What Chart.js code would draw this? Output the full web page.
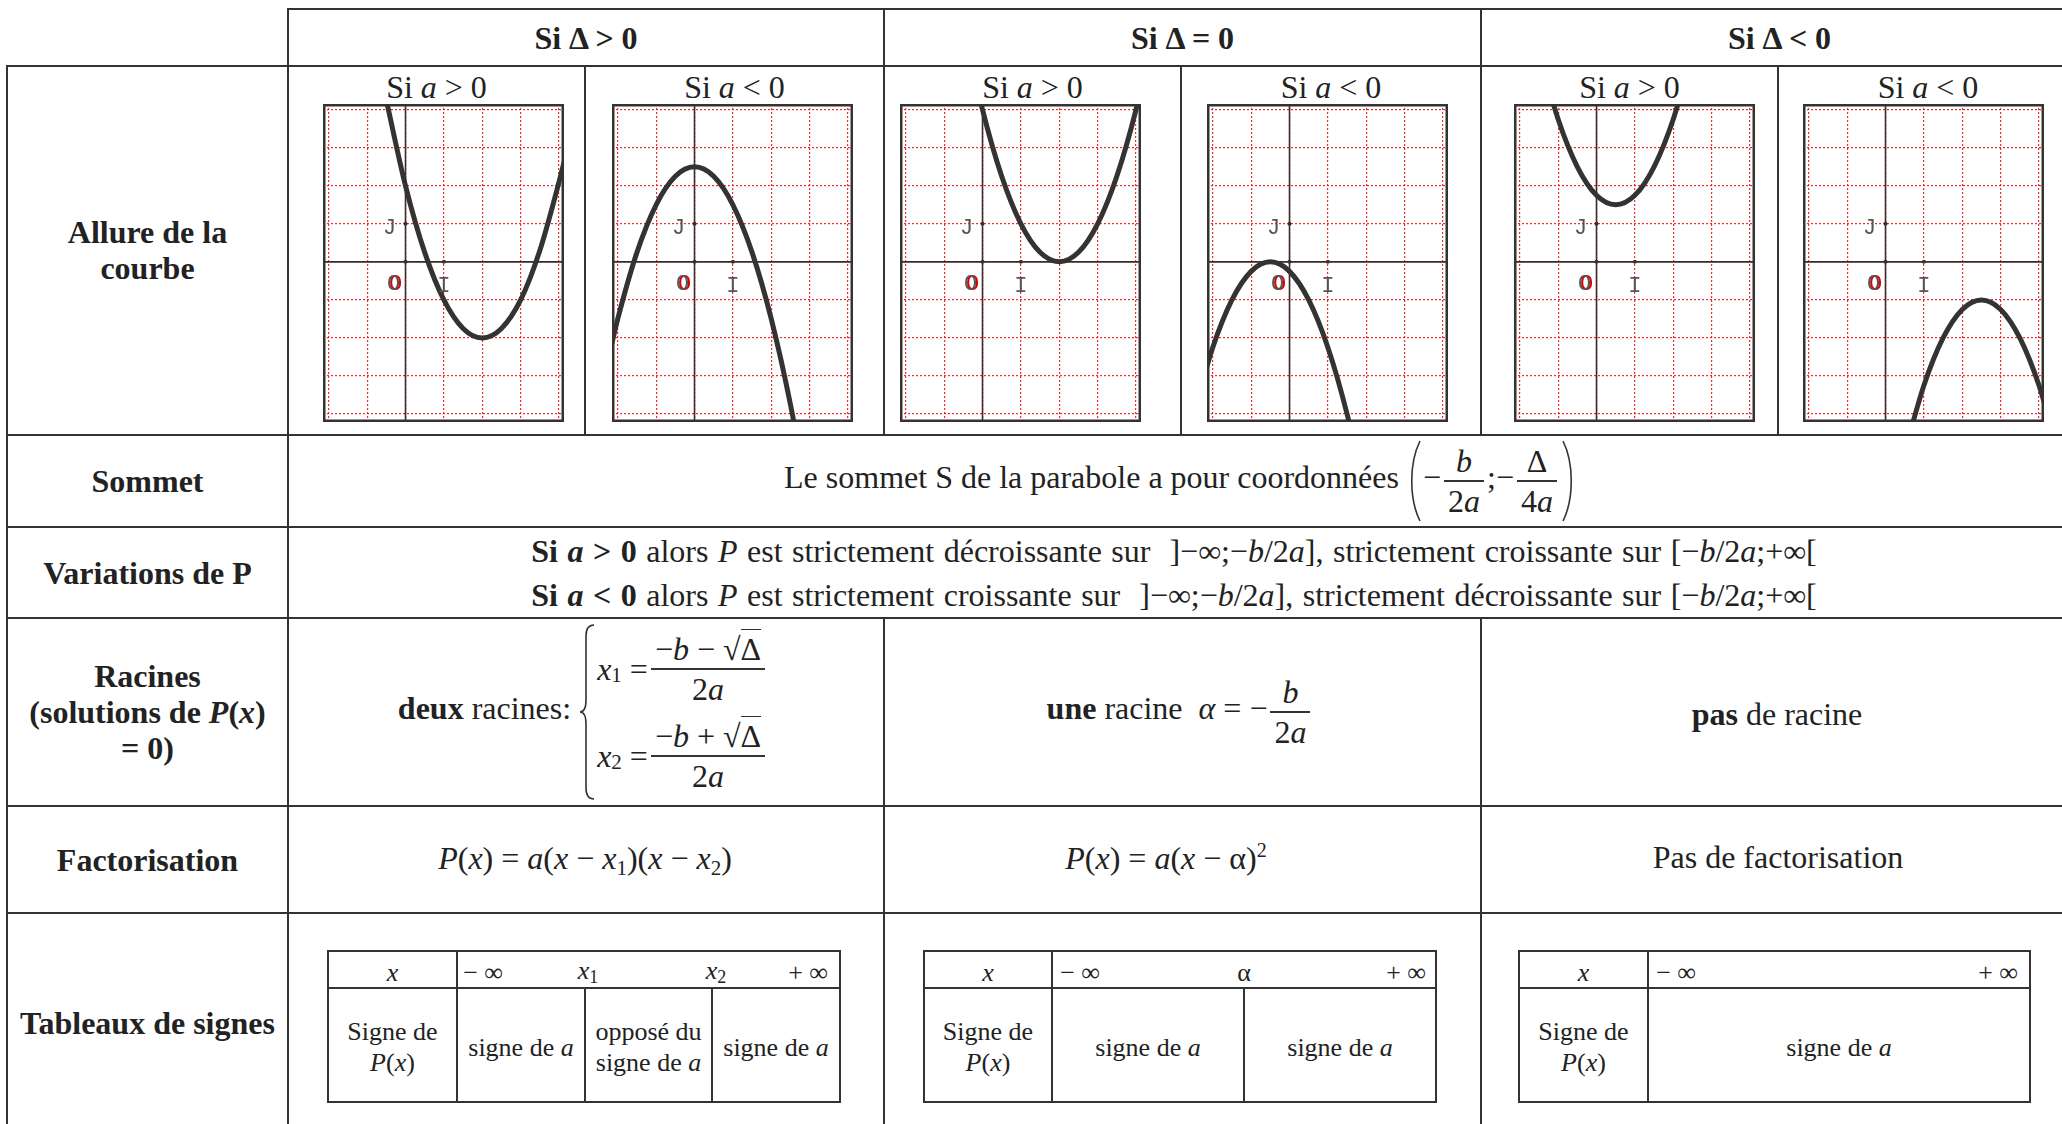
<!DOCTYPE html>
<html lang="fr">
<head>
<meta charset="utf-8">
<title>Second degré – récapitulatif</title>
<script src="https://cdn.jsdelivr.net/npm/chart.js@4.4.1/dist/chart.umd.min.js"></script>
<style>
html, body { margin: 0; padding: 0; background: #fff; }
body {
  position: relative; width: 2062px; height: 1124px; overflow: hidden;
  font-family: "Liberation Serif", "Times New Roman", serif; font-size: 32px; color: #222;
}
.ln { position: absolute; background: #333; }
.t { position: absolute; display: flex; align-items: center; justify-content: center; text-align: center; }
.in { white-space: nowrap; line-height: 36px; }
.small { font-size: 26px; }
.small .in { line-height: 31px; }
.g { position: absolute; }
.fr { display: inline-flex; flex-direction: column; vertical-align: middle; text-align: center; margin: 0 3px; }
.fr > span { line-height: 38px; padding: 0 4px; }
.fr > span:first-child { border-bottom: 2px solid #333; }
.ov { border-top: 1.6px solid #333; padding-top: 1px; }
.sb { font-size: 21px; position: relative; top: 6px; }
.sup { font-size: 20px; position: relative; top: -12px; }
svg.par, svg.brace { vertical-align: middle; }
svg path { fill: none; stroke: #333; stroke-width: 1.6; }
.sys { display: inline-flex; flex-direction: column; vertical-align: middle; text-align: left; }
.sys > span { height: 87px; display: flex; align-items: center; }
</style>
</head>
<body>
<script>
// ---- Data ----
const GRID_X = [-2, -1, 0, 1, 2, 3, 4];
const GRID_Y = [-4, -3, -2, -1, 0, 1, 2, 3, 4];
const X_MIN = -2.15, X_MAX = 4.13;
const Y_MIN = -4.21, Y_MAX = 4.15;
const MARK_X = [0, 1, 0];   // O, I, J
const MARK_Y = [0, 0, 1];

// delta > 0
const G1_X = [-0.5, 0, 0.5, 1, 1.5, 2, 2.5, 3, 3.5, 4, 4.2];
const G1_Y = [4.25, 2, 0.25, -1, -1.75, -2, -1.75, -1, 0.3, 2.1, 2.9];
const G2_X = [-2.2, -2, -1.5, -1, -0.5, 0, 0.5, 1, 1.5, 2, 2.5, 3];
const G2_Y = [-2.35, -1.5, 0.25, 1.5, 2.25, 2.5, 2.25, 1.5, 0.25, -1.5, -3.75, -6.5];
// delta = 0
const G3_X = [-0.5, 0, 0.5, 1, 1.5, 2, 2.5, 3, 3.5, 4, 4.5];
const G3_Y = [6.25, 4, 2.25, 1, 0.25, 0, 0.25, 1, 2.25, 4, 6.25];
const G4_X = [-2.5, -2, -1.5, -1, -0.5, 0, 0.5, 1, 1.5, 2];
const G4_Y = [-4, -2.25, -1, -0.25, 0, -0.25, -1, -2.25, -4, -6.25];
// delta < 0
const G5_X = [-1.5, -1, -0.5, 0, 0.5, 1, 1.5, 2, 2.5];
const G5_Y = [5.5, 3.75, 2.5, 1.75, 1.5, 1.75, 2.5, 3.75, 5.5];
const G6_X = [0.5, 1, 1.5, 2, 2.5, 3, 3.5, 4, 4.5];
const G6_Y = [-5, -3.25, -2, -1.25, -1, -1.25, -2, -3.25, -5];

const CURVES_X = [G1_X, G2_X, G3_X, G4_X, G5_X, G6_X];
const CURVES_Y = [G1_Y, G2_Y, G3_Y, G4_Y, G5_Y, G6_Y];

// ---- Layout ----
const FRAME_LEFT = [323, 612, 900, 1207, 1514, 1803];
const FRAME_TOP = 104, FRAME_W = 241, FRAME_H = 318;
const RED = 'rgba(238, 20, 20, 0.9)';
const INK = '#333';

function add(cls, x, y, w, h) {
  const d = document.createElement('div');
  d.className = cls;
  Object.assign(d.style, { left: x + 'px', top: y + 'px', width: w + 'px', height: h + 'px' });
  document.body.appendChild(d);
  return d;
}
function hline(x1, x2, y) { add('ln', x1 - 1, y - 1, x2 - x1 + 2, 2); }
function vline(x, y1, y2) { add('ln', x - 1, y1 - 1, 2, y2 - y1 + 2); }
function text(cx, cy, w, h, html, cls = '') {
  const d = add('t ' + cls, cx - w / 2, cy - h / 2, w, h);
  d.innerHTML = '<div class="in">' + html + '</div>';
  return d;
}
function frac(n, d) { return `<span class="fr"><span>${n}</span><span>${d}</span></span>`; }

const PAREN_L = '<svg class="par" width="16" height="84" viewBox="0 0 16 84"><path d="M13 2 C2 24 2 60 13 82"/></svg>';
const PAREN_R = '<svg class="par" width="16" height="84" viewBox="0 0 16 84"><path d="M3 2 C14 24 14 60 3 82"/></svg>';
const BRACE = '<svg class="brace" width="18" height="176" viewBox="0 0 18 176"><path d="M15 1 Q7 1 7 12 L7 76 Q7 88 1 88 Q7 88 7 100 L7 164 Q7 175 15 175"/></svg>';
const SQRT_D = '√<span class="ov">Δ</span>';

// ---- Main grid lines ----
hline(288, 2078, 9);
[66, 435, 527, 618, 806, 913].forEach(y => hline(7, 2078, y));
vline(7, 66, 1130);
vline(288, 9, 1130);
[884, 1481].forEach(x => { vline(x, 9, 435); vline(x, 618, 1130); });
[585, 1181, 1778].forEach(x => vline(x, 66, 435));

// ---- Header ----
text(586, 37.5, 560, 50, '<b>Si Δ &gt; 0</b>');
text(1182.5, 37.5, 560, 50, '<b>Si Δ = 0</b>');
text(1779.5, 37.5, 560, 50, '<b>Si Δ &lt; 0</b>');

// ---- Left labels ----
text(147.5, 250, 270, 120, '<b>Allure de la<br>courbe</b>');
text(147.5, 481, 270, 60, '<b>Sommet</b>');
text(147.5, 572.5, 270, 60, '<b>Variations de P</b>');
text(147.5, 712, 270, 150, '<b>Racines<br>(solutions de <i>P</i>(<i>x</i>)<br>= 0)</b>');
text(147.5, 859.5, 270, 60, '<b>Factorisation</b>');
text(147.5, 1023, 276, 60, '<b>Tableaux de signes</b>');

// ---- Graph titles ----
const SUB_CX = [436.5, 734.5, 1032.5, 1331, 1629.5, 1928];
SUB_CX.forEach((cx, i) => {
  text(cx, 87, 280, 34, i % 2 === 0 ? 'Si <i>a</i> &gt; 0' : 'Si <i>a</i> &lt; 0');
});

// ---- Sommet & variations ----
text(1180, 481, 1700, 88,
  'Le sommet S de la parabole a pour coordonnées&nbsp;' + PAREN_L +
  '−' + frac('<i>b</i>', '2<i>a</i>') + ';−' + frac('Δ', '4<i>a</i>') + PAREN_R);
const INTER = ']−∞;−<i>b</i>/2<i>a</i>], ';
const INTER2 = ' [−<i>b</i>/2<i>a</i>;+∞[';
const v = text(1174, 572.5, 1700, 90,
  '<b>Si <i>a</i> &gt; 0</b> alors <i>P</i> est strictement décroissante sur&nbsp; ' + INTER +
  'strictement croissante sur' + INTER2 + '<br>' +
  '<b>Si <i>a</i> &lt; 0</b> alors <i>P</i> est strictement croissante sur&nbsp; ' + INTER +
  'strictement décroissante sur' + INTER2);
v.firstChild.style.lineHeight = '44px';
v.firstChild.style.wordSpacing = '1.5px';

// ---- Racines ----
text(583, 712, 580, 186,
  '<b>deux</b> racines:&nbsp;' + BRACE +
  '<span class="sys"><span><i>x</i><span class="sb">1</span>&nbsp;=' + frac('−<i>b</i> − ' + SQRT_D, '2<i>a</i>') + '</span>' +
  '<span><i>x</i><span class="sb">2</span>&nbsp;=' + frac('−<i>b</i> + ' + SQRT_D, '2<i>a</i>') + '</span></span>');
text(1180, 712, 580, 186, '<b>une</b> racine&nbsp; <i>α</i> = −' + frac('<i>b</i>', '2<i>a</i>'));
text(1777, 714, 580, 60, '<b>pas</b> de racine');

// ---- Factorisation ----
text(585, 859.5, 580, 60, '<i>P</i>(<i>x</i>) = <i>a</i>(<i>x</i> − <i>x</i><span class="sb">1</span>)(<i>x</i> − <i>x</i><span class="sb">2</span>)');
text(1166, 859.5, 580, 60, '<i>P</i>(<i>x</i>) = <i>a</i>(<i>x</i> − α)<span class="sup">2</span>');
text(1778, 857, 580, 60, 'Pas de factorisation');

// ---- Tableaux de signes ----
const SIGNE_P = 'Signe de<br><i>P</i>(<i>x</i>)';
const SIGNE_A = 'signe de <i>a</i>';
const HY = 972, SEP = 988;
function tableFrame(x1, x2, inner, bodyOnly) {
  hline(x1, x2, 951); hline(x1, x2, SEP); hline(x1, x2, 1102);
  vline(x1, 951, 1102); vline(x2, 951, 1102); vline(inner, 951, 1102);
  bodyOnly.forEach(x => vline(x, SEP, 1102));
}
// delta > 0
tableFrame(328, 840, 457, [585, 712]);
text(392.5, HY, 120, 30, '<i>x</i>', 'small');
text(483, HY, 60, 30, '− ∞', 'small');
text(588, HY, 50, 30, '<i>x</i><span class="sb" style="font-size:18px;top:4px">1</span>', 'small');
text(716, HY, 50, 30, '<i>x</i><span class="sb" style="font-size:18px;top:4px">2</span>', 'small');
text(808, HY, 60, 30, '+ ∞', 'small');
text(392.5, 1047, 124, 80, SIGNE_P, 'small');
text(521, 1047, 124, 80, SIGNE_A, 'small');
text(648.5, 1047, 124, 80, 'opposé du<br>signe de <i>a</i>', 'small');
text(776, 1047, 124, 80, SIGNE_A, 'small');
// delta = 0
tableFrame(924, 1436, 1052, [1244]);
text(988, HY, 120, 30, '<i>x</i>', 'small');
text(1080, HY, 60, 30, '− ∞', 'small');
text(1244, HY, 40, 30, 'α', 'small');
text(1406, HY, 60, 30, '+ ∞', 'small');
text(988, 1047, 124, 80, SIGNE_P, 'small');
text(1148, 1047, 186, 80, SIGNE_A, 'small');
text(1340, 1047, 186, 80, SIGNE_A, 'small');
// delta < 0
tableFrame(1519, 2030, 1648, []);
text(1583.5, HY, 120, 30, '<i>x</i>', 'small');
text(1676, HY, 60, 30, '− ∞', 'small');
text(1998, HY, 60, 30, '+ ∞', 'small');
text(1583.5, 1047, 124, 80, SIGNE_P, 'small');
text(1839, 1047, 370, 80, SIGNE_A, 'small');

// ---- Graphs ----
const axisMarks = {
  id: 'axisMarks',
  afterDatasetsDraw(chart) {
    const { ctx, chartArea: a, scales: { x, y } } = chart;
    const ox = x.getPixelForValue(0), oy = y.getPixelForValue(0);
    const ix = x.getPixelForValue(1), jy = y.getPixelForValue(1);
    ctx.save();
    ctx.font = '22px "Liberation Mono", "DejaVu Sans Mono", monospace';
    ctx.textAlign = 'center';
    ctx.textBaseline = 'middle';
    ctx.fillStyle = '#e00000';
    ctx.fillText('O', ox - 10, oy + 22);
    ctx.fillStyle = '#555';
    ctx.fillText('O', ox - 12, oy + 22);
    ctx.fillText('I', ix, oy + 24);
    ctx.fillText('J', ox - 16, jy + 4);
    ctx.strokeStyle = INK;
    ctx.lineWidth = 2.5;
    ctx.strokeRect(a.left + 1.25, a.top + 1.25, a.width - 2.5, a.height - 2.5);
    ctx.restore();
  }
};

function axisOpts(min, max, ticks) {
  return {
    type: 'linear', min, max,
    afterBuildTicks: (s) => { s.ticks = ticks.map(v => ({ value: v })); },
    ticks: { display: false },
    grid: { color: RED, lineWidth: 1.2, drawTicks: false },
    border: { display: false, dash: [2, 2] }
  };
}

CURVES_X.forEach((xs, i) => {
  const wrap = add('g', FRAME_LEFT[i], FRAME_TOP, FRAME_W, FRAME_H);
  const cv = document.createElement('canvas');
  wrap.appendChild(cv);
  new Chart(cv, {
    type: 'scatter',
    data: {
      datasets: [
        {
          data: xs.map((x, k) => ({ x, y: CURVES_Y[i][k] })),
          showLine: true, borderColor: INK, borderWidth: 5, pointRadius: 0, pointHoverRadius: 0,
          cubicInterpolationMode: 'monotone', borderCapStyle: 'round'
        },
        {
          data: MARK_X.map((x, k) => ({ x, y: MARK_Y[k] })),
          showLine: false, pointRadius: 2, pointBorderWidth: 0, pointBackgroundColor: INK
        },
        {
          data: [{ x: X_MIN, y: 0 }, { x: X_MAX, y: 0 }],
          showLine: true, borderColor: '#3d2a2a', borderWidth: 1.6, pointRadius: 0, pointHoverRadius: 0
        },
        {
          data: [{ x: 0, y: Y_MIN }, { x: 0, y: Y_MAX }],
          showLine: true, borderColor: '#3d2a2a', borderWidth: 1.6, pointRadius: 0, pointHoverRadius: 0
        }
      ]
    },
    options: {
      animation: false, responsive: true, maintainAspectRatio: false,
      events: [],
      layout: { padding: 0, autoPadding: false },
      plugins: { legend: { display: false }, tooltip: { enabled: false } },
      scales: { x: axisOpts(X_MIN, X_MAX, GRID_X), y: axisOpts(Y_MIN, Y_MAX, GRID_Y) }
    },
    plugins: [axisMarks]
  });
});
</script>
</body>
</html>
